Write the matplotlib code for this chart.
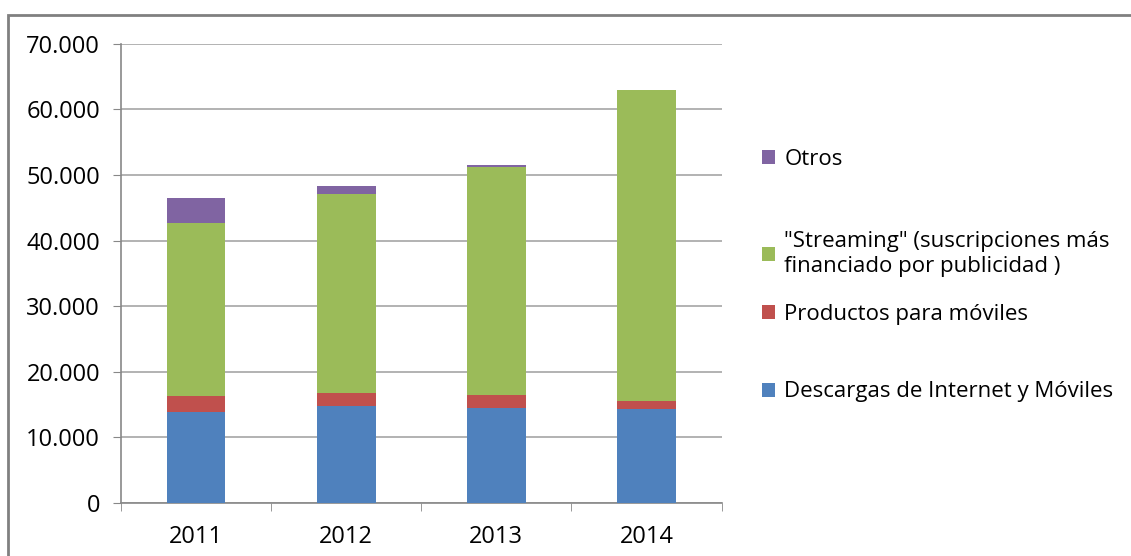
import numpy as np
import matplotlib.pyplot as plt
from matplotlib.patches import Rectangle
from matplotlib.ticker import FuncFormatter

plt.rcParams['font.family'] = ['Open Sans', 'DejaVu Sans']

years = ['2011', '2012', '2013', '2014']
descargas = [13800, 14700, 14500, 14300]
productos = [2500, 2000, 1900, 1250]
streaming = [26400, 30400, 34800, 47450]
otros = [3800, 1200, 300, 0]

series = [
    ('Descargas de Internet y Móviles', descargas, '#4F81BD'),
    ('Productos para móviles', productos, '#C0504D'),
    ('"Streaming" (suscripciones más\nfinanciado por publicidad )', streaming, '#9BBB59'),
    ('Otros', otros, '#8064A2'),
]
# vertical centre of each legend entry (figure fraction)
legend_y = [0.295, 0.435, 0.543, 0.714]

fig = plt.figure(figsize=(11.31, 5.56), dpi=100)
ax = fig.add_axes([0.107, 0.096, 0.531, 0.825])

x = np.arange(len(years))
bottom = np.zeros(len(years))
handles = []
for label, vals, color in series:
    b = ax.bar(x, vals, 0.39, bottom=bottom, color=color, label=label, zorder=3)
    handles.append(b)
    bottom += np.array(vals)

ax.set_ylim(0, 70000)
ax.set_xlim(-0.5, 3.5)
ax.set_yticks(np.arange(0, 70001, 10000))
ax.yaxis.set_major_formatter(FuncFormatter(lambda v, p: f'{int(v):,}'.replace(',', '.')))
ax.grid(axis='y', color='#A6A6A6', linewidth=1.2, zorder=0)
ax.set_xticks(x)
ax.set_xticklabels(years)
ax.set_xticks(np.arange(-0.5, 4, 1), minor=True)
ax.tick_params(axis='x', which='major', length=0, pad=16, labelsize=17)
ax.tick_params(axis='x', which='minor', length=6, color='#888888')
ax.tick_params(axis='y', length=6, color='#888888', labelsize=17, pad=9)
for side in ['top', 'right']:
    ax.spines[side].set_visible(False)
for side in ['left', 'bottom']:
    ax.spines[side].set_color('#888888')
    ax.spines[side].set_linewidth(1.2)

for (label, vals, color), h, yc in zip(series, handles, legend_y):
    fig.legend([h], [label], loc='center left', bbox_to_anchor=(0.656, yc),
               frameon=False, fontsize=16, handlelength=0.6, handleheight=0.6,
               handletextpad=0.4)

fig.patches.append(Rectangle((8 / 1131, -0.05), 1.1, 0.973 + 0.05,
                             transform=fig.transFigure, fill=False,
                             edgecolor='#808080', linewidth=2))

fig.savefig('out.png', dpi=100)
